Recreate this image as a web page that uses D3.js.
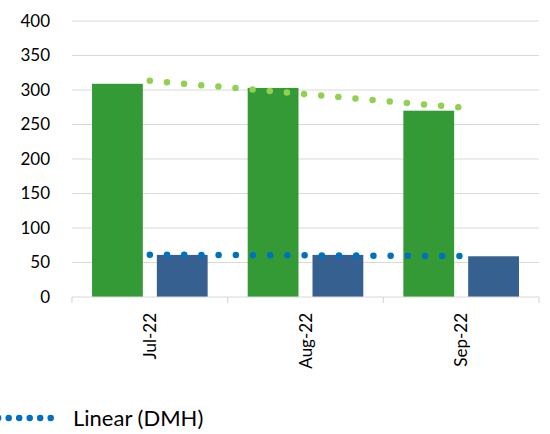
<!DOCTYPE html>
<html><head><meta charset="utf-8">
<script src="https://cdn.jsdelivr.net/npm/d3@7/dist/d3.min.js"></script>
<style>body{margin:0;background:#fff}svg{display:block}text{font-family:Lato,"Open Sans",sans-serif;fill:#000}</style>
</head><body><svg id="c" width="550" height="434"></svg>
<script>
const categories = ["Jul-22","Aug-22","Sep-22"];
const seriesNames = ["Series1","DMH"];
const greenValues = [309, 303, 270];
const blueValues = [61, 61, 59];
const yTicks = [0,50,100,150,200,250,300,350,400];
const legendLabel = "Linear (DMH)";

const svg = d3.select("#c");
const y = d3.scaleLinear().domain([0,400]).range([297,21]);
const x = d3.scaleBand().domain(categories).range([72,539]).paddingInner(0).paddingOuter(0);
const xs = d3.scaleBand().domain(seriesNames).range([0,x.bandwidth()]).paddingInner(0.2164).paddingOuter(0.309);

// gridlines
svg.append("g").selectAll("line").data(yTicks.filter(d=>d>0)).join("line")
  .attr("x1",72).attr("x2",539).attr("y1",d=>y(d)).attr("y2",d=>y(d))
  .attr("stroke","#d9d9d9").attr("stroke-width",1);

// y axis labels
const ya = svg.append("g").attr("transform","translate(72,0)")
  .call(d3.axisLeft(y).tickValues(yTicks).tickSize(0).tickPadding(22));
ya.select(".domain").remove();
ya.selectAll("text").style("font-size","17px").style("font-family","Lato, sans-serif").attr("fill","#000");

// bars
const data = categories.map((c,i)=>({c, vals:[greenValues[i], blueValues[i]]}));
const colors = ["#349a35","#36608f"];
const g = svg.append("g");
data.forEach(d=>{
  d.vals.forEach((v,j)=>{
    g.append("rect").attr("x",x(d.c)+xs(seriesNames[j])).attr("width",xs.bandwidth())
      .attr("y",y(v)).attr("height",y(0)-y(v)).attr("fill",colors[j]);
  });
});

// x axis
const xa = svg.append("g").attr("transform","translate(0,297)");
xa.append("line").attr("x1",72).attr("x2",539).attr("stroke","#d9d9d9").attr("stroke-width",1.2);
const bounds = [...categories.map(c=>x(c)), x(categories[categories.length-1])+x.bandwidth()];
xa.selectAll("line.t").data(bounds).join("line").attr("class","t")
  .attr("x1",d=>d).attr("x2",d=>d).attr("y1",0).attr("y2",6).attr("stroke","#d9d9d9").attr("stroke-width",1.2);
xa.selectAll("text").data(categories).join("text")
  .attr("transform",d=>`translate(${x(d)+x.bandwidth()/2+6},16) rotate(-90)`)
  .attr("text-anchor","end").style("font-size","17px").text(d=>d);

// trendlines (linear regression, as Excel)
function trend(vals){
  const n=vals.length, xsVals=vals.map((_,i)=>i+1);
  const mx=d3.mean(xsVals), my=d3.mean(vals);
  const b=d3.sum(xsVals.map((xx,i)=>(xx-mx)*(vals[i]-my)))/d3.sum(xsVals.map(xx=>(xx-mx)**2));
  const a=my-b*mx;
  return [a+b*1, a+b*n];
}
const cx0 = x(categories[0])+x.bandwidth()/2, cx1 = x(categories[2])+x.bandwidth()/2;
[[greenValues,"#92d050"],[blueValues,"#0070c0"]].forEach(([vals,col])=>{
  const t=trend(vals);
  svg.append("line").attr("x1",cx0).attr("y1",y(t[0])).attr("x2",cx1).attr("y2",y(t[1]))
    .attr("stroke",col).attr("stroke-width",6.5).attr("stroke-linecap","round")
    .attr("stroke-dasharray","0 17.2");
});

// legend
svg.append("line").attr("x1",-1.8).attr("x2",51).attr("y1",418).attr("y2",418)
  .attr("stroke","#0070c0").attr("stroke-width",6.5).attr("stroke-linecap","round").attr("stroke-dasharray","0 10.5");
svg.append("text").attr("x",73).attr("y",426).style("font-size","22px").text(legendLabel);
</script></body></html>
